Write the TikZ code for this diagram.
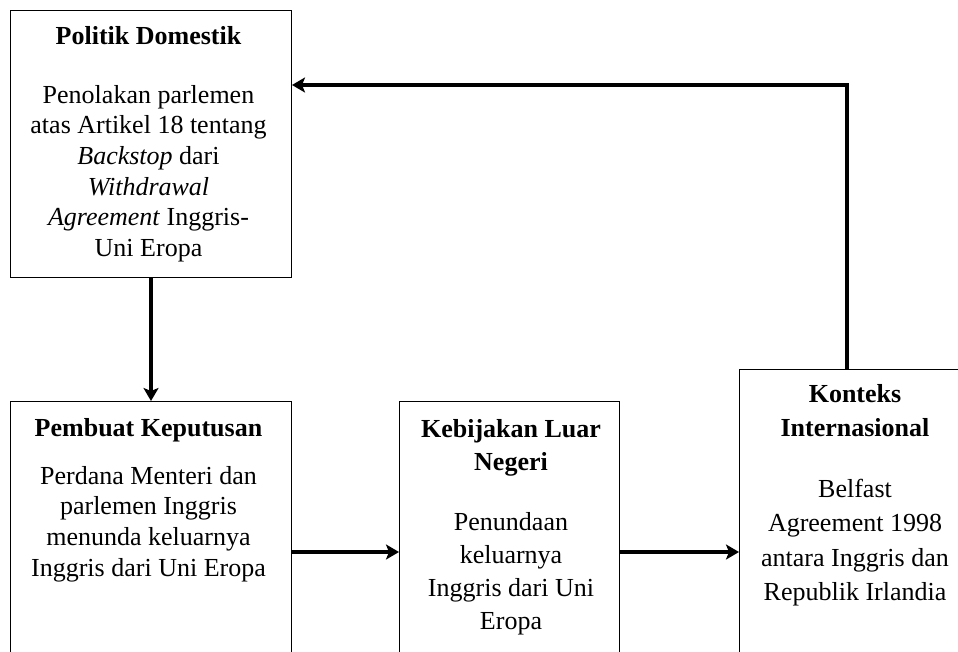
\documentclass[tikz,border=0pt]{standalone}
\usepackage{fontspec}
\setmainfont{Liberation Serif}
\usetikzlibrary{arrows.meta}
\begin{document}
\begin{tikzpicture}[x=1pt,y=-1pt,
  box/.style={draw,line width=1pt,rectangle,inner sep=0pt,anchor=north west},
  txt/.style={inner sep=0pt,anchor=north,align=center},
  arr/.style={line width=4pt,-{Stealth[length=13pt,width=15pt,inset=3pt]}}]
\useasboundingbox (0,0) rectangle (958,651);
\begin{scope}
\clip (0,0) rectangle (958,651);
\node[box,minimum width=281pt,minimum height=267pt] (dom) at (10,10) {};
\node[box,minimum width=281pt,minimum height=300pt] (pk) at (10,401) {};
\node[box,minimum width=220pt,minimum height=300pt] (kln) at (399,401) {};
\node[box,minimum width=232pt,minimum height=330pt] (ki) at (739,369) {};
\end{scope}
% texts
\node[txt,font=\fontsize{26}{30.7}\selectfont\bfseries] (t1) at (148.5,22.5) {\strut Politik Domestik};
\node[txt,font=\fontsize{26}{30.7}\selectfont] (b1) at (148.5,81.5) {\strut Penolakan parlemen\\ \strut atas Artikel 18 tentang\\ \strut\textit{Backstop} dari\\ \strut\textit{Withdrawal}\\ \strut\textit{Agreement} Inggris-\\ \strut Uni Eropa};
\node[txt,font=\fontsize{26}{30.7}\selectfont\bfseries] (t2) at (148.5,414.5) {\strut Pembuat Keputusan};
\node[txt,font=\fontsize{26}{30.7}\selectfont] (b2) at (148.5,462.5) {\strut Perdana Menteri dan\\ \strut parlemen Inggris\\ \strut menunda keluarnya\\ \strut Inggris dari Uni Eropa};
\node[txt,font=\fontsize{26}{33}\selectfont\bfseries] (t3) at (511,413.9) {\strut Kebijakan Luar\\ \strut Negeri};
\node[txt,font=\fontsize{26}{33}\selectfont] (b3) at (511,506.9) {\strut Penundaan\\ \strut keluarnya\\ \strut Inggris dari Uni\\ \strut Eropa};
\node[txt,font=\fontsize{26}{34.5}\selectfont\bfseries] (t4) at (855,377.9) {\strut Konteks\\ \strut Internasional};
\node[txt,font=\fontsize{26}{34.5}\selectfont] (b4) at (855,472.9) {\strut Belfast\\ \strut Agreement 1998\\ \strut antara Inggris dan\\ \strut Republik Irlandia};
% connectors
\coordinate (ya) at (0,552);
\coordinate (top) at (847,85);
\draw[arr] (dom.south) -- (pk.north);
\draw[arr] (pk.east |- ya) -- (kln.west |- ya);
\draw[arr] (kln.east |- ya) -- (ki.west |- ya);
\draw[arr] (ki.north -| top) |- (dom.east |- top);
\end{tikzpicture}
\end{document}
